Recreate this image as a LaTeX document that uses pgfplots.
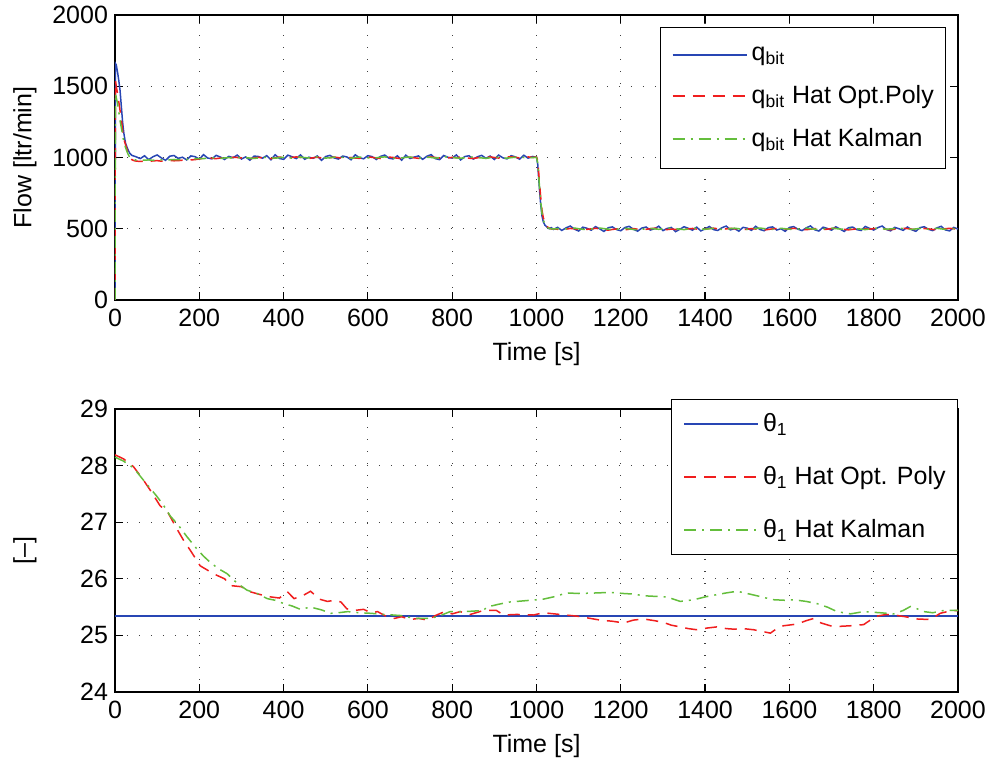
\documentclass[border=0pt]{standalone}
\usepackage{fontspec}
\setmainfont{Liberation Sans}
\usepackage{pgfplots}
\pgfplotsset{compat=1.18}
\usepackage{pgfplotstable}
\usepackage{xcolor}
\definecolor{mBlue}{RGB}{40,70,180}
\definecolor{mRed}{RGB}{240,30,30}
\definecolor{mGreen}{RGB}{100,190,60}

% flow: time, q_bit, hat opt.poly, hat kalman
\pgfplotstableread{
t q p k
0 0 0 0
1 1660 1540 1450
3 1650 1500 1420
6 1600 1450 1380
9 1540 1390 1320
12 1470 1330 1260
15 1360 1270 1210
18 1250 1190 1160
21 1170 1130 1110
25 1100 1090 1070
30 1060 1040 1030
35 1030 1005 1000
40 1015 985 990
45 1010 978 985
50 1005 975 982
60 992 972 980
70 1012 975 981
80 985 973 983
90 1005 976 980
100 1018 978 985
110 997 974 983
120 980 976 982
130 1009 979 984
140 1014 977 986
150 994 978 985
160 1002 981 987
170 983 979 986
180 1011 983 990
190 1006 985 991
200 988 990 993
210 1020 995 992
220 996 998 996
230 991 994 998
240 1015 992 995
250 1003 996 993
260 986 993 997
270 1008 995 999
280 998 1002 996
290 1017 1000 998
300 989 997 1001
310 1004 995 999
320 981 991 996
330 1010 996 993
340 1007 1001 997
350 995 998 1000
360 1013 994 1002
370 984 992 998
380 1019 997 995
390 993 1003 999
400 987 999 1002
410 1016 995 998
420 1006 1001 996
430 992 1004 1000
440 1018 1000 1003
450 988 996 999
460 1002 993 997
470 994 998 1001
480 1011 1002 1004
490 980 997 999
500 1007 993 996
510 1015 998 998
520 997 1003 1002
530 989 999 1005
540 1010 995 1001
550 1004 997 997
560 984 1000 995
570 1019 996 999
580 998 994 1003
590 991 999 1000
600 1013 1004 997
610 1006 1001 995
620 986 997 998
630 1008 993 1002
640 1017 998 1004
650 995 1003 1000
660 990 1000 996
670 1012 995 993
680 981 992 997
690 1016 997 1001
700 993 1002 1003
710 1003 998 999
720 1011 994 995
730 987 996 998
740 1009 1001 1002
750 1020 1004 1000
760 992 1000 996
770 985 996 999
780 1014 992 1003
790 1001 997 1005
800 996 1001 1001
810 1018 998 997
820 983 1003 995
830 1007 999 999
840 1012 995 1002
850 989 993 1004
860 1005 998 1000
870 1015 1002 997
880 994 999 994
890 1010 1004 998
900 986 1000 1003
910 1017 996 1001
920 998 999 997
930 990 1003 995
940 1013 1005 999
950 1004 1001 1002
960 988 997 1004
970 1016 1000 1000
980 995 1004 997
990 1007 1001 999
1000 1002 1003 1001
1003 950 980 960
1005 860 900 880
1008 740 790 760
1010 670 720 690
1013 590 630 610
1016 550 580 565
1020 525 540 530
1025 512 515 510
1030 500 505 503
1035 508 498 500
1040 495 500 498
1050 510 496 501
1060 488 493 497
1070 506 497 499
1080 519 502 503
1090 497 500 505
1100 484 495 500
1110 511 492 496
1120 503 496 494
1130 490 499 498
1140 515 503 502
1150 499 500 505
1160 481 494 501
1170 507 490 497
1180 513 495 493
1190 494 499 497
1200 486 496 500
1210 509 492 503
1220 517 497 499
1230 496 501 495
1240 483 497 492
1250 505 493 496
1260 512 496 500
1270 491 500 503
1280 500 504 499
1290 518 501 496
1300 487 497 499
1310 502 494 502
1320 509 498 505
1330 480 495 501
1340 496 491 497
1350 514 495 494
1360 503 499 498
1370 490 502 501
1380 511 498 503
1390 485 494 499
1400 499 497 496
1410 516 501 500
1420 494 504 503
1430 488 500 499
1440 507 496 495
1450 519 499 497
1460 492 503 501
1470 501 500 504
1480 483 496 500
1490 510 493 497
1500 504 497 495
1510 489 501 498
1520 517 498 502
1530 495 494 505
1540 486 491 501
1550 508 495 498
1560 513 499 496
1570 491 502 499
1580 500 498 503
1590 482 495 500
1600 509 499 497
1610 515 503 494
1620 497 500 498
1630 487 496 502
1640 506 493 504
1650 520 497 500
1660 493 501 497
1670 484 498 495
1680 511 494 499
1690 502 497 502
1700 490 501 505
1710 514 504 501
1720 498 500 498
1730 481 496 496
1740 507 492 499
1750 512 496 503
1760 494 499 500
1770 488 503 497
1780 516 500 494
1790 503 497 498
1800 491 501 501
1810 508 504 504
1820 519 500 500
1830 495 496 497
1840 485 493 499
1850 510 497 502
1860 500 500 505
1870 489 504 501
1880 512 501 498
1890 493 497 495
1900 482 494 499
1910 508 498 502
1920 514 502 500
1930 496 499 497
1940 487 495 500
1950 506 492 503
1960 517 496 499
1970 492 500 496
1980 485 503 498
1990 509 500 501
2000 498 497 499
}\flowdata

% theta_1 hat, opt. poly
\pgfplotstableread{
t v
0 28.19
20 28.12
44 27.98
67 27.75
85 27.55
107 27.29
125 27.18
147 26.88
165 26.65
179 26.50
202 26.23
220 26.15
242 26.06
260 26.00
274 25.88
300 25.86
321 25.77
345 25.72
369 25.68
390 25.66
409 25.77
425 25.65
445 25.70
464 25.78
485 25.64
504 25.60
520 25.62
536 25.59
550 25.47
567 25.44
590 25.46
607 25.40
623 25.42
640 25.35
663 25.30
680 25.33
700 25.28
720 25.30
742 25.27
760 25.35
782 25.42
800 25.38
819 25.42
843 25.37
874 25.44
905 25.44
922 25.36
953 25.37
993 25.36
1016 25.40
1056 25.37
1096 25.34
1120 25.31
1151 25.27
1180 25.25
1207 25.22
1230 25.27
1254 25.29
1280 25.26
1301 25.23
1320 25.18
1341 25.15
1360 25.12
1380 25.10
1405 25.13
1428 25.15
1450 25.12
1468 25.11
1490 25.12
1515 25.10
1535 25.07
1555 25.04
1570 25.12
1586 25.17
1618 25.20
1640 25.26
1658 25.30
1675 25.22
1697 25.17
1720 25.16
1745 25.17
1776 25.19
1790 25.26
1808 25.34
1830 25.37
1848 25.36
1875 25.33
1903 25.29
1934 25.28
1958 25.39
1980 25.43
2000 25.44
}\polydata

% theta_1 hat, kalman
\pgfplotstableread{
t v
0 28.15
20 28.08
44 27.96
70 27.72
99 27.46
115 27.30
131 27.11
150 26.95
170 26.75
194 26.53
210 26.40
226 26.29
245 26.18
266 26.09
290 25.92
313 25.80
337 25.74
361 25.65
380 25.62
401 25.56
420 25.52
440 25.46
464 25.50
490 25.45
512 25.39
530 25.40
552 25.42
580 25.40
607 25.39
640 25.37
679 25.35
710 25.30
750 25.30
775 25.36
795 25.42
830 25.42
874 25.44
882 25.50
910 25.55
937 25.59
969 25.61
1016 25.64
1040 25.68
1072 25.75
1100 25.74
1143 25.75
1175 25.76
1207 25.74
1230 25.73
1254 25.70
1280 25.69
1309 25.68
1341 25.60
1373 25.63
1400 25.68
1428 25.72
1450 25.75
1476 25.78
1500 25.74
1523 25.70
1545 25.66
1563 25.63
1590 25.62
1610 25.63
1640 25.60
1666 25.56
1690 25.50
1713 25.42
1745 25.38
1776 25.42
1816 25.40
1848 25.38
1870 25.44
1887 25.51
1903 25.47
1919 25.42
1940 25.40
1966 25.44
2000 25.44
}\kalmandata

\pgfplotsset{
    lblue/.style={color=mBlue, line width=0.75pt},
    lred/.style={color=mRed, line width=0.75pt, dash pattern=on 6pt off 4pt},
    lgreen/.style={color=mGreen, line width=0.75pt, dash pattern=on 6pt off 3pt on 1pt off 3pt},
    mlab/.style={
        scale only axis,
        width=421.5pt,
        xmin=0, xmax=2000,
        xtick={0,200,...,2000},
        tick align=inside,
        major tick length=4pt,
        axis line style={line width=0.8pt},
        tick style={line width=0.6pt, black},
        grid=major,
        grid style={black!75, line width=0.6pt, dash pattern=on 0.6pt off 5.4pt},
        font=\fontsize{12.5}{14}\selectfont,
        /pgf/number format/assume math mode=true,
        /pgf/number format/1000 sep={},
        xticklabel style={yshift=-1pt},
        xlabel={Time [s]},
        xlabel style={yshift=-1pt},
        every axis y label/.style={at={(rel axis cs:0,0.5)}, rotate=90,
            anchor=center, yshift=45pt},
        legend cell align=left,
        % a short blank lead, then the 37pt sample line
        legend image code/.code={\path (-2pt,0pt);
            \draw[#1, line width=1pt] (0pt,0pt) -- (37pt,0pt);},
        legend style={fill=white, font=\fontsize{12.5}{14}\selectfont,
            inner xsep=4pt},
    }
}

\begin{document}
\begin{tikzpicture}
\begin{axis}[
    mlab,
    at={(0pt,0pt)}, anchor=south west,
    height=142.5pt,
    ymin=0, ymax=2000,
    ytick={0,500,...,2000},
    ylabel={Flow [ltr/min]},
    legend style={at={(0.986,0.957)}, anchor=north east,
        inner ysep=7.5pt, row sep=7pt},
]
\addplot[lblue] table[x=t, y=q] {\flowdata};
\addlegendentry{q\textsubscript{bit}}
\addplot[lred] table[x=t, y=p] {\flowdata};
\addlegendentry{q\textsubscript{bit} Hat Opt.Poly}
\addplot[lgreen] table[x=t, y=k] {\flowdata};
\addlegendentry{q\textsubscript{bit} Hat Kalman}
\end{axis}

\begin{axis}[
    mlab,
    at={(0pt,-54.5pt)}, anchor=north west,
    height=141.5pt,
    ymin=24, ymax=29,
    ytick={24,25,...,29},
    ylabel={[–]},
    legend style={at={(1,1.035)}, anchor=north east,
        inner ysep=5pt, row sep=12pt},
]
\addplot[lblue] coordinates {(0,25.34) (2000,25.34)};
\addlegendentry{θ\textsubscript{1}}
\addplot[lred] table[x=t, y=v] {\polydata};
\addlegendentry{θ\textsubscript{1} Hat Opt. Poly}
\addplot[lgreen] table[x=t, y=v] {\kalmandata};
\addlegendentry{θ\textsubscript{1} Hat Kalman}
\end{axis}

\pgfresetboundingbox
\path (-57.5pt,150pt) rectangle (439pt,-232.5pt);
\end{tikzpicture}
\end{document}
